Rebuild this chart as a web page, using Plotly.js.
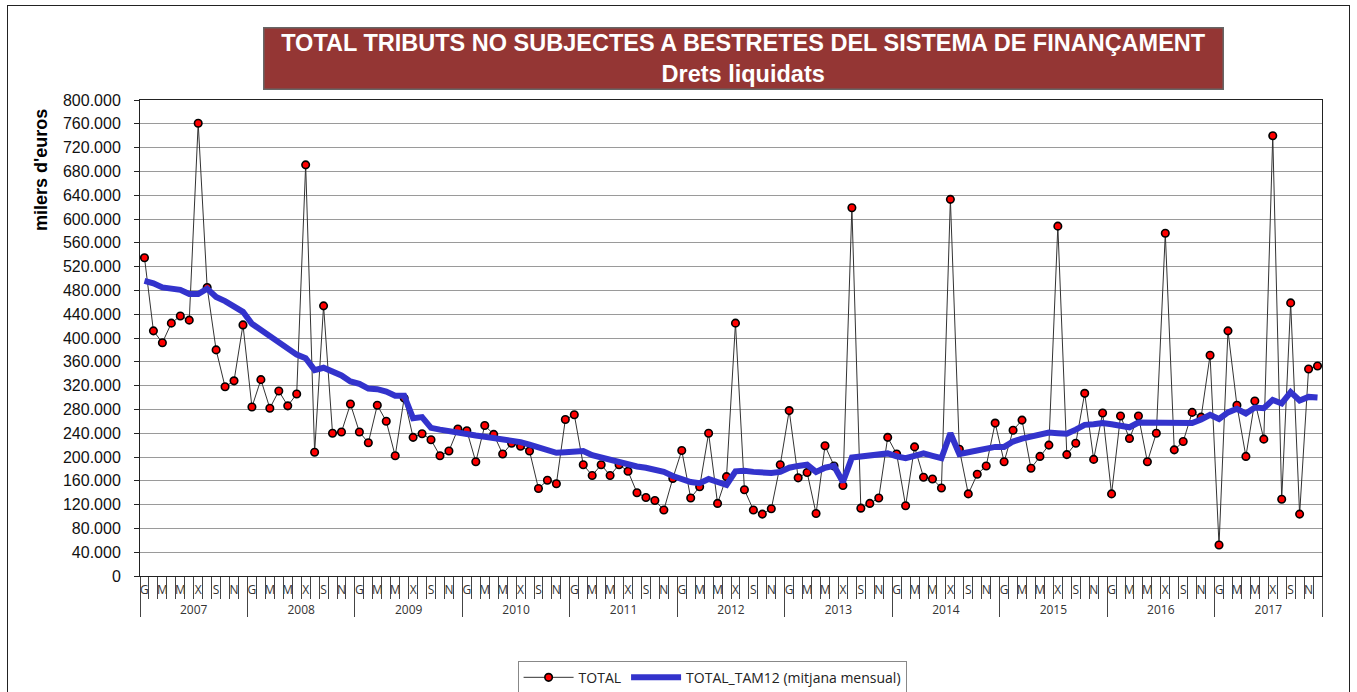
<!DOCTYPE html>
<html>
<head>
<meta charset="utf-8">
<script src="https://cdn.plot.ly/plotly-3.0.1.min.js"></script>
<style>
  html, body { margin: 0; padding: 0; background: #fff; }
  #frame { position: absolute; left: 7px; top: 5px; width: 1343px; height: 720px; border: 1px solid #222; box-sizing: border-box; }
  #chart { position: absolute; left: 0; top: 0; width: 1357px; height: 692px; }
</style>
</head>
<body>
<div id="frame"></div>
<div id="chart"></div>
<script>
// ---- data (thousands of euros, converted below to euros) ----
const years = ['2007','2008','2009','2010','2011','2012','2013','2014','2015','2016','2017'];
const monthLetters = ['G','F','M','A','M','J','X','A','S','O','N','D'];

const total = [
  535, 412, 392, 425, 437, 430, 761, 485, 380, 318, 328, 422,   // 2007
  284, 330, 282, 311, 286, 306, 691, 208, 454, 240, 242, 289,   // 2008
  242, 224, 287, 260, 202, 299, 233, 239, 229, 202, 210, 247,   // 2009
  244, 192, 253, 238, 205, 223, 218, 210, 147, 161, 155, 263,   // 2010
  271, 187, 169, 187, 169, 187, 176, 140, 132, 127, 111, 164,   // 2011
  211, 131, 150, 240, 122, 167, 425, 145, 111, 104, 113, 187,   // 2012
  278, 165, 174, 105, 219, 185, 152, 619, 114, 122, 131, 233,   // 2013
  205, 118, 217, 166, 163, 148, 633, 213, 138, 171, 185, 257,   // 2014
  192, 245, 262, 181, 201, 220, 588, 204, 223, 307, 196, 274,   // 2015
  138, 269, 231, 269, 192, 240, 576, 212, 226, 275, 267, 371,   // 2016
   52, 412, 287, 201, 294, 230, 740, 129, 459, 104, 348, 353    // 2017
];

const tam12 = [
  496, 492, 485, 482, 481, 474, 474, 483, 469, 462, 453, 444,   // 2007
  424, 414, 405, 395, 383, 372, 366, 346, 350, 344, 337, 327,   // 2008
  323, 315, 314, 310, 303, 303, 265, 267, 249, 246, 243, 240,   // 2009
  238, 236, 234, 232, 231, 228, 225, 221, 216, 211, 207, 208,   // 2010
  210, 210, 203, 199, 195, 192, 187, 184, 182, 178, 175, 168,   // 2011
  163, 158, 156, 163, 158, 153, 176, 177, 175, 173, 173, 175,   // 2012
  182, 185, 187, 175, 182, 185, 158, 199, 201, 202, 204, 206,   // 2013
  201, 198, 202, 206, 202, 198, 240, 205, 208, 211, 216, 217,   // 2014
  217, 226, 231, 234, 237, 241, 240, 239, 246, 254, 255, 257,   // 2015
  255, 253, 250, 258, 258, 259, 259, 259, 259, 257, 263, 271,   // 2016
  264, 275, 281, 273, 283, 282, 296, 290, 309, 295, 301, 300    // 2017
];

const monthTickLabels = ['G','M','M','X','S','N'];
const yTickStep = 40000;

// ---- derived ----
const nMonths = years.length * 12;
const idx = Array.from({length: nMonths}, (_, i) => i);
const monthNames = idx.map(i => monthLetters[i % 12] + ' ' + years[Math.floor(i / 12)]);
const totalE = total.map(v => v * 1000);
const tamE = tam12.map(v => v * 1000);

const evenTicks = idx.filter(i => i % 2 === 0);
const evenText = evenTicks.map(i => monthTickLabels[(i % 12) / 2]);
const monthBounds = Array.from({length: nMonths + 1}, (_, k) => k - 0.5);
const yearBounds = Array.from({length: years.length + 1}, (_, k) => k * 12 - 0.5);
const yearCenters = years.map((_, k) => k * 12 + 5.5);

const xr = [-0.5, nMonths - 0.5];
const lblFont = {family: 'Open Sans, Noto Sans, sans-serif', size: 12, color: '#333'};

const traces = [
  {
    x: idx, y: totalE, text: monthNames, name: 'TOTAL', type: 'scatter', mode: 'lines+markers',
    line: {color: '#333', width: 1},
    marker: {color: '#ff0000', size: 7.5, line: {color: '#000', width: 1.6}},
    hovertemplate: '%{text}: %{y}<extra></extra>'
  },
  {
    x: idx, y: tamE, text: monthNames, name: 'TOTAL_TAM12 (mitjana mensual)', type: 'scatter', mode: 'lines',
    line: {color: '#3333cc', width: 6},
    hovertemplate: '%{text}: %{y}<extra></extra>'
  },
  {x: [null], y: [null], xaxis: 'x2', showlegend: false, hoverinfo: 'skip', type: 'scatter'},
  {x: [null], y: [null], xaxis: 'x3', showlegend: false, hoverinfo: 'skip', type: 'scatter'},
  {x: [null], y: [null], xaxis: 'x4', showlegend: false, hoverinfo: 'skip', type: 'scatter'}
];

const baseOverlay = {
  range: xr, overlaying: 'x', anchor: 'y', side: 'bottom',
  showgrid: false, zeroline: false, showline: false, fixedrange: true
};

const layout = {
  width: 1357, height: 692,
  margin: {l: 140, r: 35, t: 100, b: 116, autoexpand: false},
  paper_bgcolor: 'rgba(0,0,0,0)', plot_bgcolor: '#fff',
  separators: ',.',
  showlegend: true,
  legend: {
    orientation: 'h', x: 0.484, xanchor: 'center', y: -0.178, yanchor: 'top',
    bordercolor: '#888', borderwidth: 1, bgcolor: '#fff',
    font: {family: 'Open Sans, Noto Sans, sans-serif', size: 14, color: '#222'},
    itemwidth: 50, traceorder: 'normal'
  },
  xaxis: {
    range: xr, tickmode: 'array', tickvals: evenTicks, ticktext: evenText,
    ticks: 'outside', ticklen: 3, tickcolor: 'rgba(0,0,0,0)',
    tickfont: lblFont, showgrid: false, zeroline: false,
    showline: true, linecolor: '#222', linewidth: 1, mirror: true, fixedrange: true
  },
  xaxis2: Object.assign({}, baseOverlay, {
    tickmode: 'array', tickvals: monthBounds, showticklabels: false,
    ticks: 'outside', ticklen: 22, tickcolor: '#444', tickwidth: 1
  }),
  xaxis3: Object.assign({}, baseOverlay, {
    tickmode: 'array', tickvals: yearBounds, showticklabels: false,
    ticks: 'outside', ticklen: 40, tickcolor: '#444', tickwidth: 1
  }),
  xaxis4: Object.assign({}, baseOverlay, {
    tickmode: 'array', tickvals: yearCenters, ticktext: years,
    ticks: 'outside', ticklen: 23, tickcolor: 'rgba(0,0,0,0)',
    tickfont: lblFont
  }),
  yaxis: {
    range: [0, 800000], dtick: yTickStep, tick0: 0, tickformat: ',d',
    ticks: 'outside', ticklen: 5, tickcolor: '#222', ticklabelstandoff: 10,
    tickfont: {family: 'Liberation Sans, Arial, sans-serif', size: 16, color: '#111'},
    showgrid: true, gridcolor: '#9a9a9a', gridwidth: 1,
    zeroline: false, showline: true, linecolor: '#222', linewidth: 1, mirror: true, fixedrange: true
  },
  annotations: [
    {
      xref: 'paper', yref: 'paper', x: (743 - 140) / 1182, y: (576 - 58) / 476,
      xanchor: 'center', yanchor: 'middle', showarrow: false,
      text: '<b>TOTAL TRIBUTS NO SUBJECTES A BESTRETES DEL SISTEMA DE FINANÇAMENT</b><br><b>Drets liquidats</b>',
      font: {family: 'Liberation Sans, Arial, sans-serif', size: 23.5, color: '#fff'},
      bgcolor: '#943634', bordercolor: '#666', borderwidth: 1.5,
      width: 956, height: 58, align: 'center'
    },
    {
      xref: 'paper', yref: 'paper', x: (41 - 140) / 1182, y: (576 - 170) / 476,
      xanchor: 'center', yanchor: 'middle', showarrow: false, textangle: -90,
      text: "<b>milers d'euros</b>",
      font: {family: 'Liberation Sans, Arial, sans-serif', size: 18, color: '#000'}
    }
  ]
};

Plotly.newPlot('chart', traces, layout, {displayModeBar: false, staticPlot: false});
</script>
</body>
</html>
